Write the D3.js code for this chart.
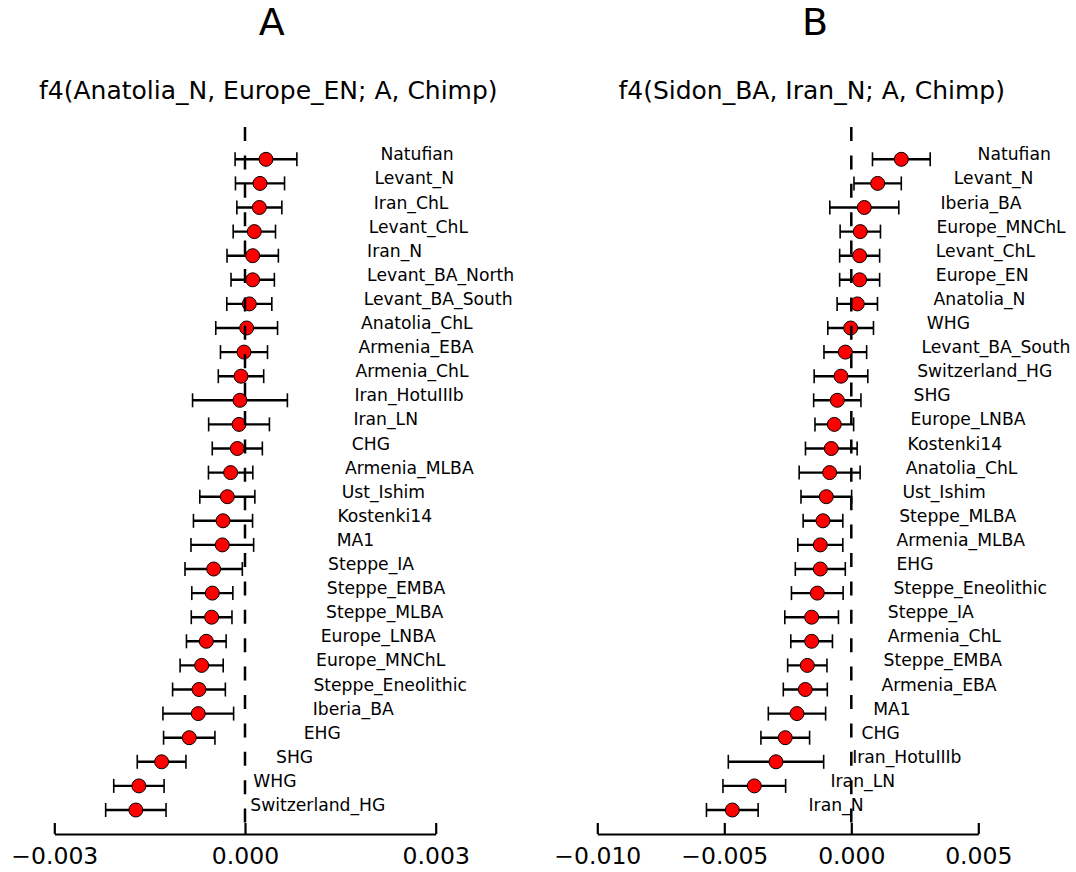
<!DOCTYPE html>
<html>
<head>
<meta charset="utf-8">
<script src="https://cdn.jsdelivr.net/npm/d3@7"></script>
<style>
  html, body { margin: 0; padding: 0; background: #fff; }
  svg { display: block; font-family: "DejaVu Sans", sans-serif; }
</style>
</head>
<body>
<svg id="chart" width="1076" height="872"></svg>
<script>
// ---------- DATA ----------
const labelsA = ["Natufian","Levant_N","Iran_ChL","Levant_ChL","Iran_N","Levant_BA_North","Levant_BA_South","Anatolia_ChL","Armenia_EBA","Armenia_ChL","Iran_HotuIIIb","Iran_LN","CHG","Armenia_MLBA","Ust_Ishim","Kostenki14","MA1","Steppe_IA","Steppe_EMBA","Steppe_MLBA","Europe_LNBA","Europe_MNChL","Steppe_Eneolithic","Iberia_BA","EHG","SHG","WHG","Switzerland_HG"];
const valuesA = [0.00033,0.000236,0.000226,0.000147,0.000121,0.000121,0.000068,0.000026,-0.000016,-0.000063,-0.000079,-0.000094,-0.000121,-0.000226,-0.000278,-0.000346,-0.000357,-0.000493,-0.000514,-0.000525,-0.000609,-0.000682,-0.000724,-0.000735,-0.000877,-0.001312,-0.001669,-0.001717];
const errorsA = [0.000486,0.000386,0.000354,0.000333,0.000404,0.000341,0.000354,0.000486,0.00037,0.000357,0.000746,0.000478,0.000394,0.000349,0.000433,0.000465,0.000493,0.000451,0.000323,0.00032,0.000312,0.000339,0.000415,0.000556,0.000404,0.000383,0.000396,0.000475];

const labelsB = ["Natufian","Levant_N","Iberia_BA","Europe_MNChL","Levant_ChL","Europe_EN","Anatolia_N","WHG","Levant_BA_South","Switzerland_HG","SHG","Europe_LNBA","Kostenki14","Anatolia_ChL","Ust_Ishim","Steppe_MLBA","Armenia_MLBA","EHG","Steppe_Eneolithic","Steppe_IA","Armenia_ChL","Steppe_EMBA","Armenia_EBA","MA1","CHG","Iran_HotuIIIb","Iran_LN","Iran_N"];
const valuesB = [0.00197,0.001037,0.000512,0.000354,0.000328,0.000328,0.000236,-0.000026,-0.000236,-0.000407,-0.000551,-0.000669,-0.000787,-0.000853,-0.000984,-0.001115,-0.00122,-0.00122,-0.001339,-0.001562,-0.001562,-0.001732,-0.001811,-0.002139,-0.0026,-0.002965,-0.003819,-0.004685];
const errorsB = [0.001136,0.000931,0.001358,0.000794,0.000787,0.000787,0.000794,0.000899,0.00084,0.001056,0.000931,0.000761,0.001017,0.0012,0.000997,0.000781,0.000886,0.000984,0.001017,0.001056,0.00082,0.000774,0.000866,0.001128,0.000958,0.001877,0.001234,0.001017];

const ticksA = [-0.003, 0.000, 0.003];
const ticksB = [-0.010, -0.005, 0.000, 0.005];

const panelLetters = ["A", "B"];
const panelTitles = ["f4(Anatolia_N, Europe_EN; A, Chimp)", "f4(Sidon_BA, Iran_N; A, Chimp)"];

// ---------- DRAW ----------
const svg = d3.select("#chart");
const axisY = 834, plotTop = 127;
const fmt = d3.format(".3f");

const panels = [
  { labels: labelsA, values: valuesA, errors: errorsA, ticks: ticksA,
    domain: [-0.003, 0.003], range: [54.3, 435.7], labelOffset: 0.0018,
    letterX: 271.7, titleX: 268.3, letter: panelLetters[0], title: panelTitles[0] },
  { labels: labelsB, values: valuesB, errors: errorsB, ticks: ticksB,
    domain: [-0.010, 0.005], range: [597.3, 978.3], labelOffset: 0.003,
    letterX: 815, titleX: 811.7, letter: panelLetters[1], title: panelTitles[1] }
];

panels.forEach(p => {
  const g = svg.append("g");
  const x = d3.scaleLinear().domain(p.domain).range(p.range);
  const y = d3.scaleLinear().domain([0, p.labels.length - 1]).range([159.3, 810]);
  const rows = p.labels.map((l, i) => ({ label: l, v: p.values[i], e: p.errors[i], i }));

  // panel letter + title
  g.append("text").attr("x", p.letterX).attr("y", 35).attr("text-anchor", "middle")
    .attr("font-size", 38).attr("fill", "#000").text(p.letter);
  g.append("text").attr("x", p.titleX).attr("y", 99).attr("text-anchor", "middle")
    .attr("font-size", 25).attr("fill", "#000").text(p.title);

  // axis
  const axis = d3.axisBottom(x).tickValues(p.ticks).tickFormat(fmt)
    .tickSizeInner(-11).tickSizeOuter(0).tickPadding(13);
  const ag = g.append("g").attr("transform", `translate(0,${axisY})`).call(axis);
  ag.select(".domain").attr("stroke", "#000").attr("stroke-width", 2.2);
  ag.selectAll(".tick line").attr("stroke", "#000").attr("stroke-width", 2.2);
  ag.selectAll(".tick text").attr("font-size", 23.5).attr("fill", "#000")
    .attr("font-family", "DejaVu Sans, sans-serif");

  // error bars
  const eb = g.append("g");
  eb.selectAll("line.bar").data(rows).join("line").attr("class", "bar")
    .attr("x1", d => x(d.v - d.e)).attr("x2", d => x(d.v + d.e))
    .attr("y1", d => y(d.i)).attr("y2", d => y(d.i))
    .attr("stroke", "#000").attr("stroke-width", 2.4);
  eb.selectAll("line.capl").data(rows).join("line").attr("class", "capl")
    .attr("x1", d => x(d.v - d.e)).attr("x2", d => x(d.v - d.e))
    .attr("y1", d => y(d.i) - 7).attr("y2", d => y(d.i) + 7)
    .attr("stroke", "#000").attr("stroke-width", 1.6);
  eb.selectAll("line.capr").data(rows).join("line").attr("class", "capr")
    .attr("x1", d => x(d.v + d.e)).attr("x2", d => x(d.v + d.e))
    .attr("y1", d => y(d.i) - 7).attr("y2", d => y(d.i) + 7)
    .attr("stroke", "#000").attr("stroke-width", 1.6);

  // points
  g.append("g").selectAll("circle").data(rows).join("circle")
    .attr("cx", d => x(d.v)).attr("cy", d => y(d.i)).attr("r", 7)
    .attr("fill", "#ff0000").attr("stroke", "#000").attr("stroke-width", 1);

  // zero dashed line
  g.append("line").attr("x1", x(0)).attr("x2", x(0))
    .attr("y1", plotTop).attr("y2", axisY)
    .attr("stroke", "#000").attr("stroke-width", 2.5).attr("stroke-dasharray", "14,14.4");

  // labels
  g.append("g").selectAll("text").data(rows).join("text")
    .attr("x", d => x(d.v + p.labelOffset)).attr("y", d => y(d.i) + 1)
    .attr("font-size", 17.2).attr("fill", "#000").text(d => d.label);
});
</script>
</body>
</html>
